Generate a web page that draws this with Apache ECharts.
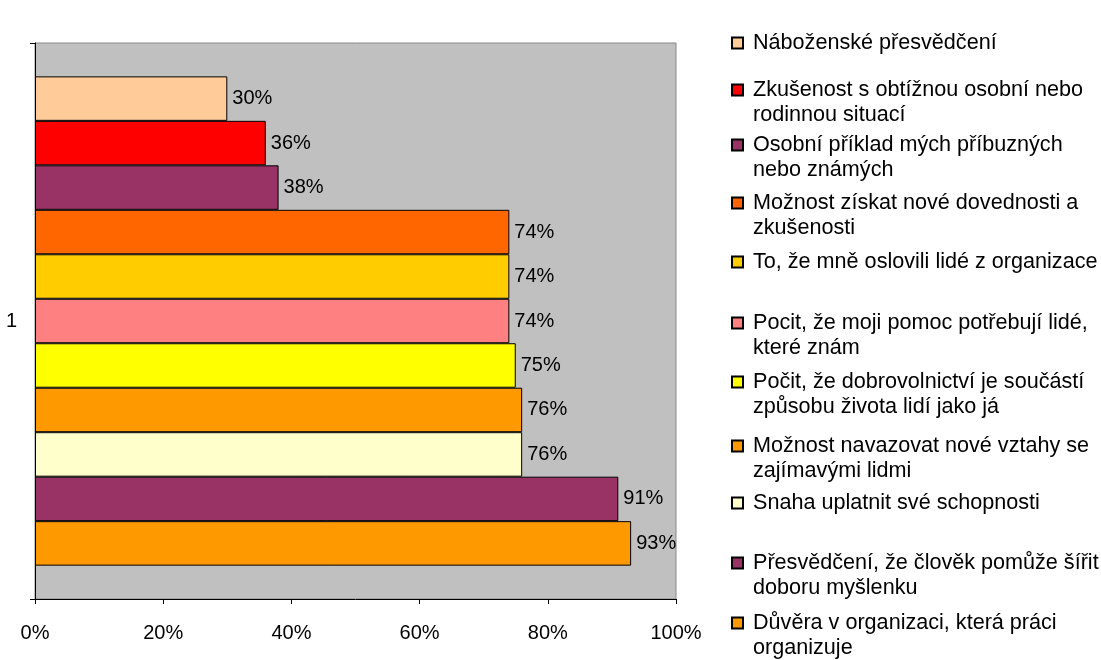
<!DOCTYPE html>
<html>
<head>
<meta charset="UTF-8"/>
<title></title>
<script src="https://cdn.jsdelivr.net/npm/echarts@6/dist/echarts.min.js"></script>
<style>
body{margin:0;background:#fff;}
#chart{width:1101px;height:660px;}
</style>
</head>
<body>
<div id="chart"></div>
<script type="text/javascript">
// kategorie (jediná skupina "1")
var categories = ['1'];
// názvy řad - pořadí odshora dolů (stejně jako legenda)
var names = [
  'Náboženské přesvědčení',
  'Zkušenost s obtížnou osobní nebo\nrodinnou situací',
  'Osobní příklad mých příbuzných\nnebo známých',
  'Možnost získat nové dovednosti a\nzkušenosti',
  'To, že mně oslovili lidé z organizace',
  'Pocit, že moji pomoc potřebují lidé,\nkteré znám',
  'Počit, že dobrovolnictví je součástí\nzpůsobu života lidí jako já',
  'Možnost navazovat nové vztahy se\nzajímavými lidmi',
  'Snaha uplatnit své schopnosti',
  'Přesvědčení, že člověk pomůže šířit\ndoboru myšlenku',
  'Důvěra v organizaci, která práci\norganizuje'
];
var values = [30, 36, 38, 74, 74, 74, 75, 76, 76, 91, 93];
var xTicks = [0, 20, 40, 60, 80, 100];

var colors = ['#FFCC99', '#FF0000', '#993366', '#FF6600', '#FFCC00', '#FF8080',
              '#FFFF00', '#FF9900', '#FFFFCC', '#993366', '#FF9900'];
// svislé středy prvních řádků legendy (odshora)
var legendY = [43, 90, 145, 203, 262, 323, 382, 446, 503, 563, 623];
var LH = 25;

var myChart = echarts.init(document.getElementById('chart'));

var series = [];
for (var i = 0; i < names.length; i++) {
  series.push({
    name: names[i],
    type: 'bar',
    data: [values[i]],
    barGap: '0%',
    barCategoryGap: '12%',
    itemStyle: { color: colors[i], borderColor: '#000', borderWidth: 1 },
    label: {
      show: true,
      position: 'right',
      distance: 5,
      formatter: '{c}%',
      color: '#000',
      fontSize: 20,
      fontFamily: 'Liberation Sans'
    }
  });
}

// každá položka legendy zvlášť, aby ikona byla u prvního řádku
var legends = [];
for (var j = 0; j < names.length; j++) {
  var twoLines = names[j].indexOf('\n') >= 0;
  legends.push({
    data: [names[j]],
    orient: 'vertical',
    left: 731,
    top: legendY[j] - LH / 2,
    padding: 0,
    itemWidth: 11,
    itemHeight: twoLines ? 36 : 11,
    icon: twoLines ? 'path://M0,0H11V11H0Z M11,36L11,36' : 'rect',
    selectedMode: false,
    textStyle: {
      fontSize: 21.6,
      lineHeight: LH,
      color: '#000',
      fontFamily: 'Liberation Sans',
      padding: [0, 0, 0, 5]
    }
  });
}

var option = {
  animation: false,
  grid: {
    left: 35,
    right: 425,
    top: 43,
    bottom: 61,
    show: true,
    backgroundColor: '#C0C0C0',
    borderColor: '#888',
    borderWidth: 1
  },
  legend: legends,
  xAxis: {
    type: 'value',
    min: xTicks[0],
    max: xTicks[xTicks.length - 1],
    interval: 20,
    splitLine: { show: false },
    axisLine: { show: true, lineStyle: { color: '#000' } },
    axisTick: { show: true, length: 5, lineStyle: { color: '#000' } },
    axisLabel: {
      formatter: '{value}%',
      margin: 24,
      color: '#000',
      fontSize: 20,
      fontFamily: 'Liberation Sans'
    }
  },
  yAxis: {
    type: 'category',
    data: categories,
    axisLine: { show: true, lineStyle: { color: '#000' } },
    axisTick: { show: true, length: 5, lineStyle: { color: '#000' } },
    axisLabel: {
      margin: 18,
      color: '#000',
      fontSize: 20,
      fontFamily: 'Liberation Sans'
    }
  },
  series: series
};
myChart.setOption(option);
</script>
</body>
</html>
